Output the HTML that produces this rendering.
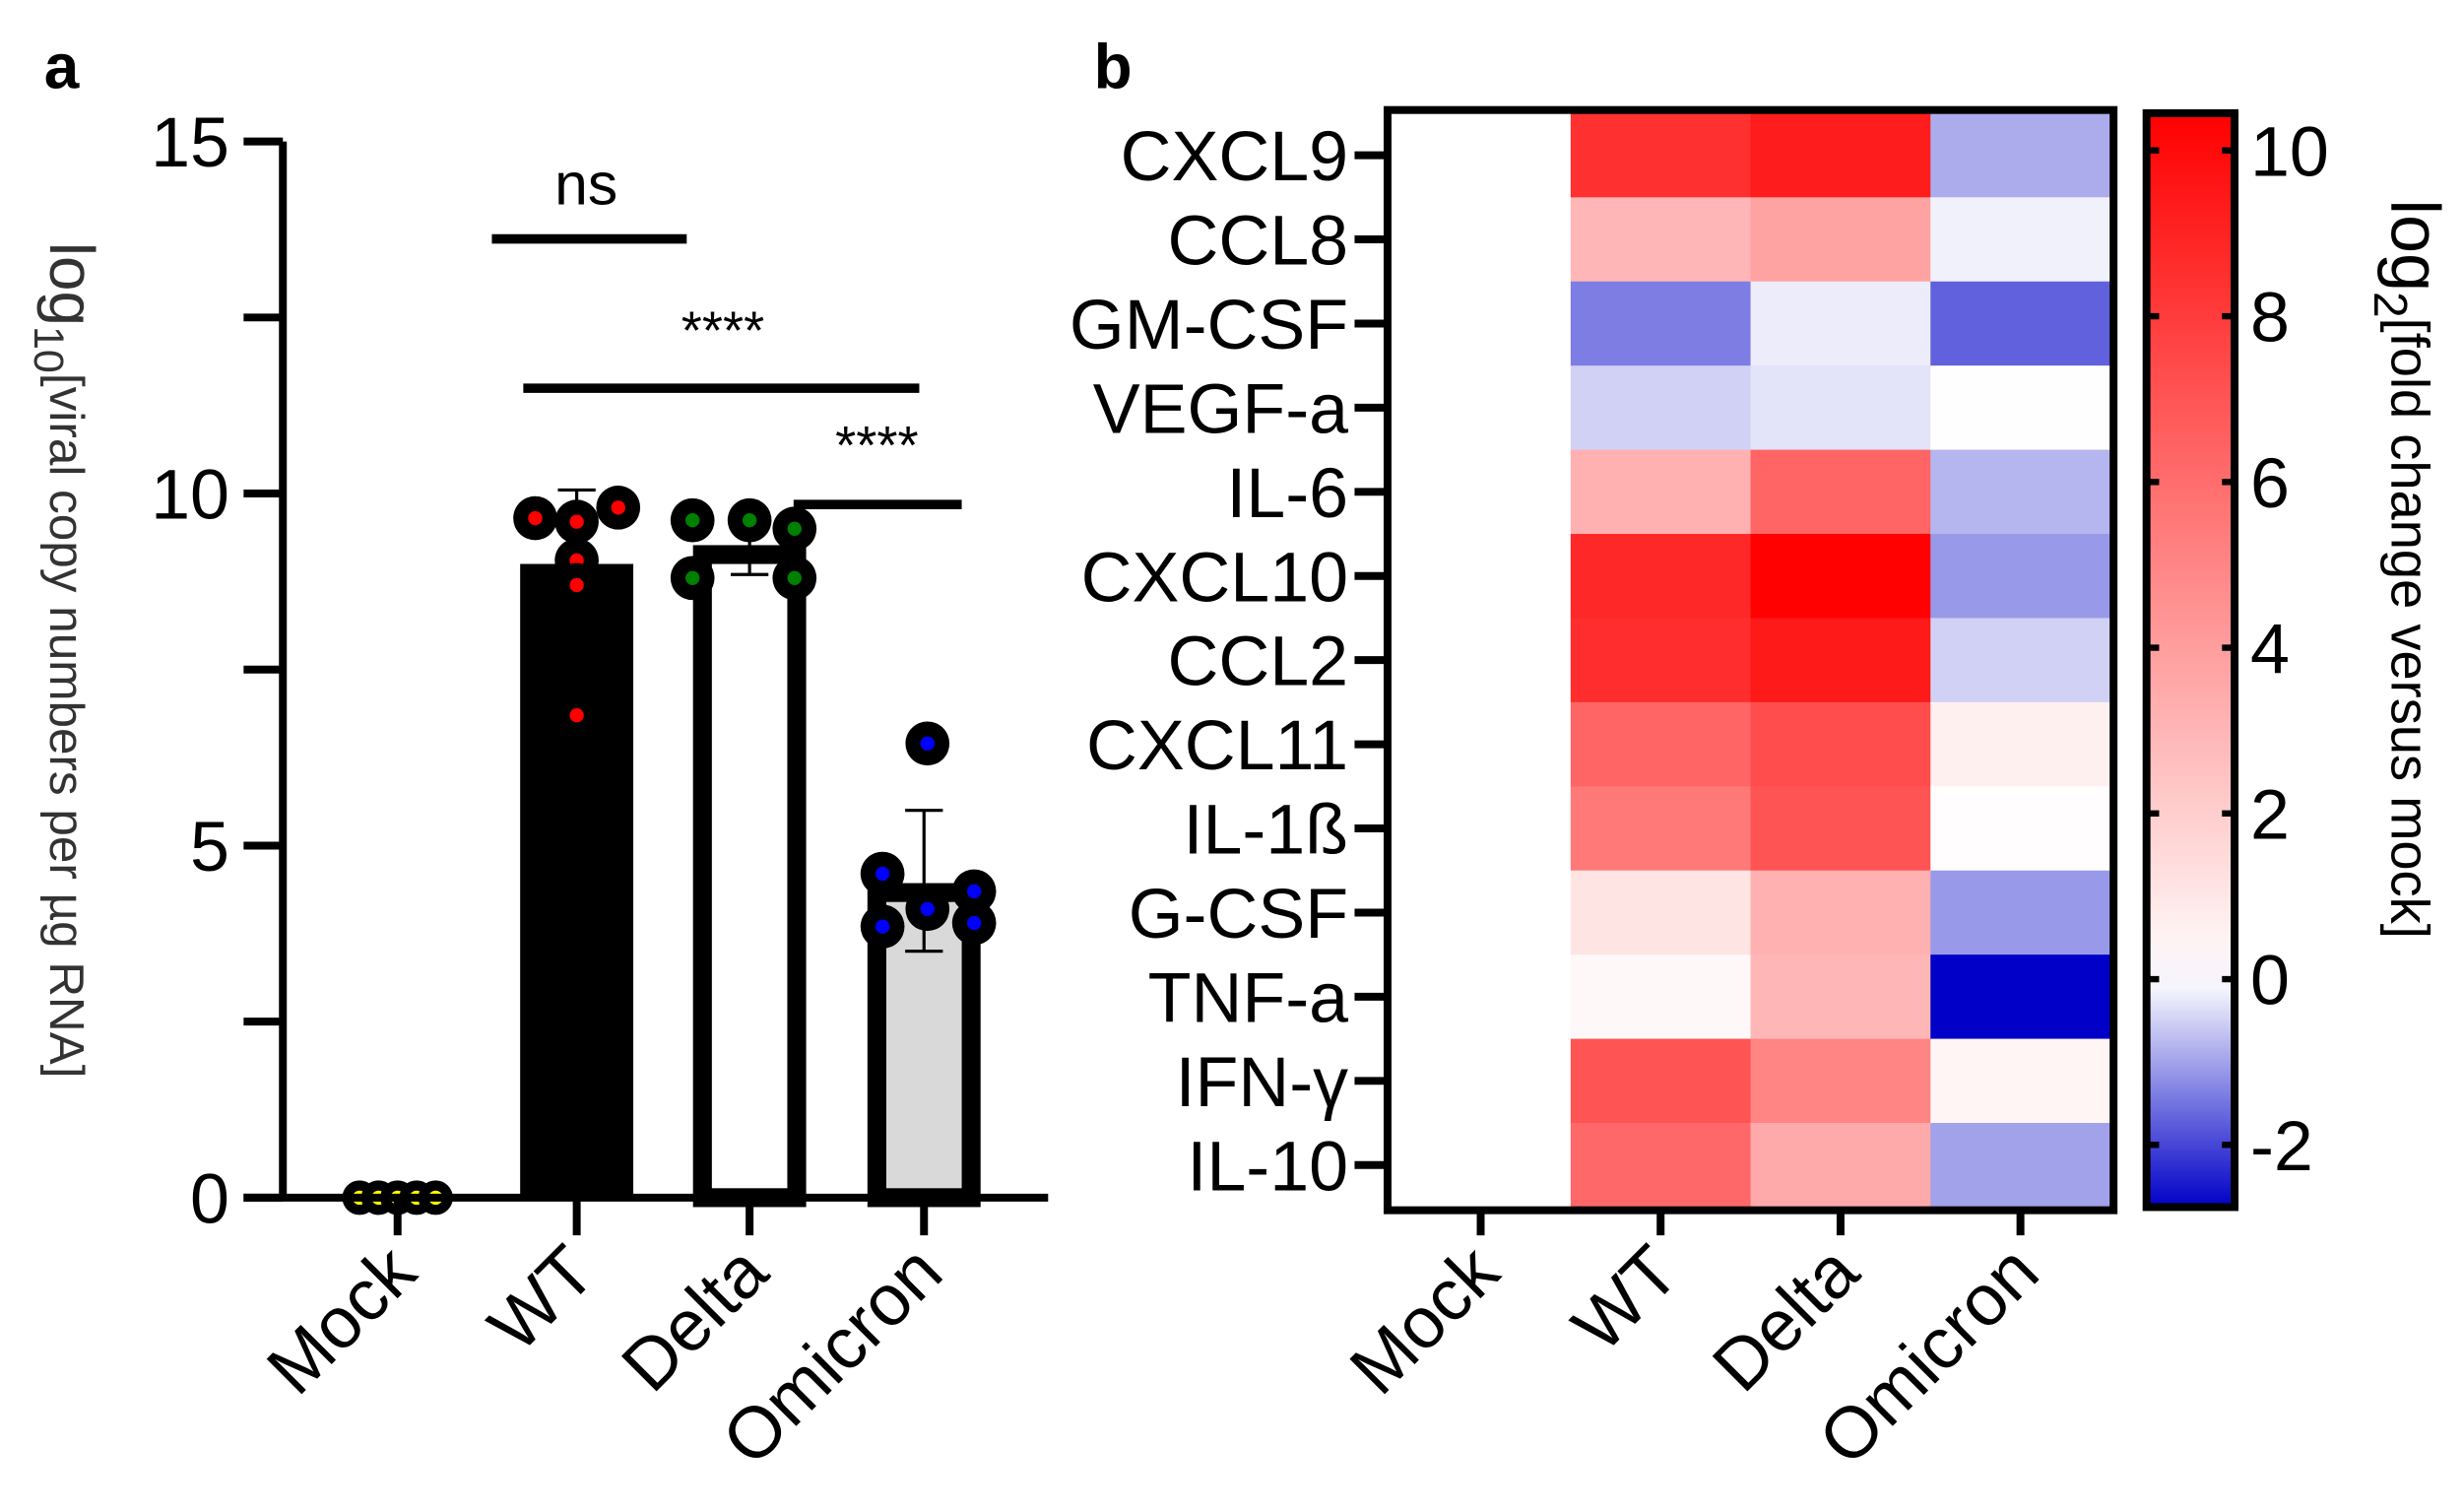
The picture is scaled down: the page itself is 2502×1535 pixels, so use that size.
<!DOCTYPE html>
<html><head><meta charset="utf-8"><style>
html,body{margin:0;padding:0;background:#fff;}
svg{display:block;font-family:"Liberation Sans",Arial,sans-serif;}
</style></head><body>
<svg id="fig" width="2502" height="1535" viewBox="0 0 1568 962" xmlns="http://www.w3.org/2000/svg">
<text x="28" y="56" font-size="40" font-weight="bold">a</text>
<text x="696" y="56" font-size="40" font-weight="bold">b</text>
<g id="pa"></g>
<g id="pb"></g>
</svg>
<script>
// ---- Panel a data ----
const groups = ["Mock","WT","Delta","Omicron"];
const barMeans = [0, 9.0, 9.2, 4.4];
const errHigh = [0, 10.05, 9.7, 5.5];
const errLow = [0, 9.0, 8.85, 3.5];
const ptGroup = [0,0,0,0,0, 1,1,1,1,1,1, 2,2,2,2,2, 3,3,3,3,3,3];
const ptValue = [0,0,0,0,0, 9.65,9.6,9.8,9.05,8.7,6.85, 9.62,9.62,9.5,8.8,8.8, 6.45,4.6,4.35,4.1,3.85,3.9];
const ptJitter = [-0.22,-0.11,0,0.11,0.22, -0.24,0,0.24,0,0,0, -0.33,0,0.26,-0.33,0.26, 0.02,-0.24,0.29,0.02,-0.24,0.29];
const yTicks = [0,5,10,15];
// ---- Panel b data ----
const genes = ["CXCL9","CCL8","GM-CSF","VEGF-a","IL-6","CXCL10","CCL2","CXCL11","IL-1ß","G-CSF","TNF-a","IFN-γ","IL-10"];
const conds = ["Mock","WT","Delta","Omicron"];
const heatMock = [0,0,0,0,0,0,0,0,0,0,0,0,0];
const heatWT = [8.5,3.0,-1.4,-0.5,3.2,8.8,8.6,6.3,5.5,1.1,0.3,7.0,6.2];
const heatDelta = [9.3,3.8,-0.2,-0.3,6.3,10.4,9.4,7.3,7.0,3.2,3.0,5.0,3.5];
const heatOmicron = [-0.9,-0.15,-1.7,0.05,-0.8,-1.1,-0.5,0.6,0.1,-1.1,-2.75,0.4,-1.0];
const cbTicks = [-2,0,2,4,6,8,10];

const NS="http://www.w3.org/2000/svg";
function mk(tag, attrs, parent, text){const e=document.createElementNS(NS,tag);for(const k in attrs)e.setAttribute(k,attrs[k]);if(text!==undefined)e.textContent=text;parent.appendChild(e);return e;}

// ---- Panel a ----
const pa=document.getElementById('pa');
const y0=762, yTop=90, yMax=15;
const ya=v=>y0-(v/yMax)*(y0-yTop);
const xc=[253,367,477,588];
const bw=36;
let e;
for(let i=1;i<4;i++){
  const top=ya(barMeans[i]);
  if(i===1){e=mk('rect',{x:xc[i]-bw,y:top,width:bw*2,height:y0-top,fill:'#000'},pa);}
  else{const fill=i===2?'#fff':'#d9d9d9';e=mk('rect',{x:xc[i]-bw+6,y:top+3,width:bw*2-12,height:y0-top-3,fill:fill,stroke:'#000','stroke-width':12},pa);}
  
  
  e=mk('path',{d:`M${xc[i]} ${ya(errLow[i])}V${ya(errHigh[i])}M${xc[i]-12} ${ya(errHigh[i])}H${xc[i]+12}M${xc[i]-12} ${ya(errLow[i])}H${xc[i]+12}`,stroke:'#000','stroke-width':2,fill:'none'},pa);
  
  
}
const ptCols=['#ffff00','#ff0000','#008000','#0000ff'];
for(let k=0;k<ptValue.length;k++){
  const g=ptGroup[k];const cx=xc[g]+ptJitter[k]*110;const cy=ya(ptValue[k]);
  e=mk('circle',{cx:cx,cy:cy,r:g===0?11:14,fill:'#000'},pa);
  
  
  mk('circle',{cx:cx,cy:cy,r:4.5,fill:ptCols[g]},pa);
}
// axes
e=mk('path',{d:`M180 ${yTop}V${y0+1}`,stroke:'#000','stroke-width':5,fill:'none'},pa);

e=mk('path',{d:`M155 ${y0}H667`,stroke:'#000','stroke-width':5,fill:'none'},pa);

for(let v=0;v<=15;v+=2.5){mk('path',{d:`M155 ${ya(v)}H180`,stroke:'#000','stroke-width':5},pa);}
yTicks.forEach(v=>{e=mk('text',{x:146,y:ya(v)+16,'font-size':45,'text-anchor':'end'},pa,String(v));
  });
groups.forEach((g,i)=>{mk('path',{d:`M${xc[i]} ${y0}V786`,stroke:'#000','stroke-width':5},pa);
  e=mk('text',{x:xc[i]+14,y:812,'font-size':46,'text-anchor':'end',transform:`rotate(-45 ${xc[i]+14} 812)`},pa,g);
  });
e=mk('text',{transform:'translate(32 420) rotate(90)','font-size':31,'text-anchor':'middle',fill:'#333'},pa);

e.innerHTML='<tspan font-size="40">log</tspan><tspan font-size="27" dy="10">10</tspan><tspan dy="-10">[viral copy numbers per µg RNA]</tspan>';
// significance
[[313,437,152,'ns',373,130,38],[333,585,247,'****',460,222,34],[505,612,321,'****',558,295,34]].forEach(s=>{
  e=mk('path',{d:`M${s[0]} ${s[2]}H${s[1]}`,stroke:'#000','stroke-width':6},pa);
  
  e=mk('text',{x:s[4],y:s[5],'font-size':s[6],'text-anchor':'middle'},pa,s[3]);
  
});

// ---- Panel b ----
const pb=document.getElementById('pb');
const hx0=885,hx1=1343,hy0=72,hy1=768;
const cw=(hx1-hx0)/conds.length, rh=(hy1-hy0)/genes.length;
const vMin=-2.75,vMax=10.45;
function color(v){
  if(v>=0){const t=Math.min(1,v/vMax);const c=Math.round(255*(1-t));return `rgb(255,${c},${c})`;}
  const t=Math.min(1,v/vMin);return `rgb(${Math.round(255*(1-t))},${Math.round(255*(1-t))},${Math.round(255-55*t)})`;
}
const heat=[heatMock,heatWT,heatDelta,heatOmicron];
heat.forEach((col,ci)=>col.forEach((v,ri)=>{
  e=mk('rect',{x:hx0+ci*cw,y:hy0+ri*rh,width:cw+0.6,height:rh+0.6,fill:color(v)},pb);
  
}));
e=mk('rect',{x:hx0-2,y:hy0-2,width:hx1-hx0+4,height:hy1-hy0+4,fill:'none',stroke:'#000','stroke-width':5},pb);

genes.forEach((g,i)=>{const y=hy0+(i+0.5)*rh;
  mk('path',{d:`M862 ${y}H883`,stroke:'#000','stroke-width':5},pb);
  e=mk('text',{x:858,y:y+16,'font-size':45,'text-anchor':'end'},pb,g);
  });
conds.forEach((c,i)=>{const x=hx0+(i+0.5)*cw;
  mk('path',{d:`M${x} ${hy1+2}V786`,stroke:'#000','stroke-width':5},pb);
  e=mk('text',{x:x+14,y:812,'font-size':46,'text-anchor':'end',transform:`rotate(-45 ${x+14} 812)`},pb,c);
  });
// colorbar
const cbx=1366,cbw=56;
const cy=v=>hy1-(v-vMin)/(vMax-vMin)*(hy1-hy0);
const defs=mk('defs',{},pb);
const lg=mk('linearGradient',{id:'cbg',x1:0,y1:1,x2:0,y2:0},defs);
for(let i=0;i<=20;i++){const v=vMin+(vMax-vMin)*i/20;mk('stop',{offset:i/20,'stop-color':color(v)},lg);}
e=mk('rect',{x:cbx,y:hy0,width:cbw,height:hy1-hy0,fill:'url(#cbg)',stroke:'#000','stroke-width':5},pb);

cbTicks.forEach(v=>{const y=cy(v);
  mk('path',{d:`M${cbx} ${y}H${cbx+8}M${cbx+cbw-8} ${y}H${cbx+cbw}`,stroke:'#000','stroke-width':4},pb);
  e=mk('text',{x:1432,y:y+16,'font-size':45},pb,String(v));
  });
e=mk('text',{transform:'translate(1522 362) rotate(90)','font-size':34,'text-anchor':'middle'},pb);

e.innerHTML='<tspan font-size="44">log</tspan><tspan font-size="30" dy="11">2</tspan><tspan dy="-11">[fold change versus mock]</tspan>';
</script>
</body></html>
